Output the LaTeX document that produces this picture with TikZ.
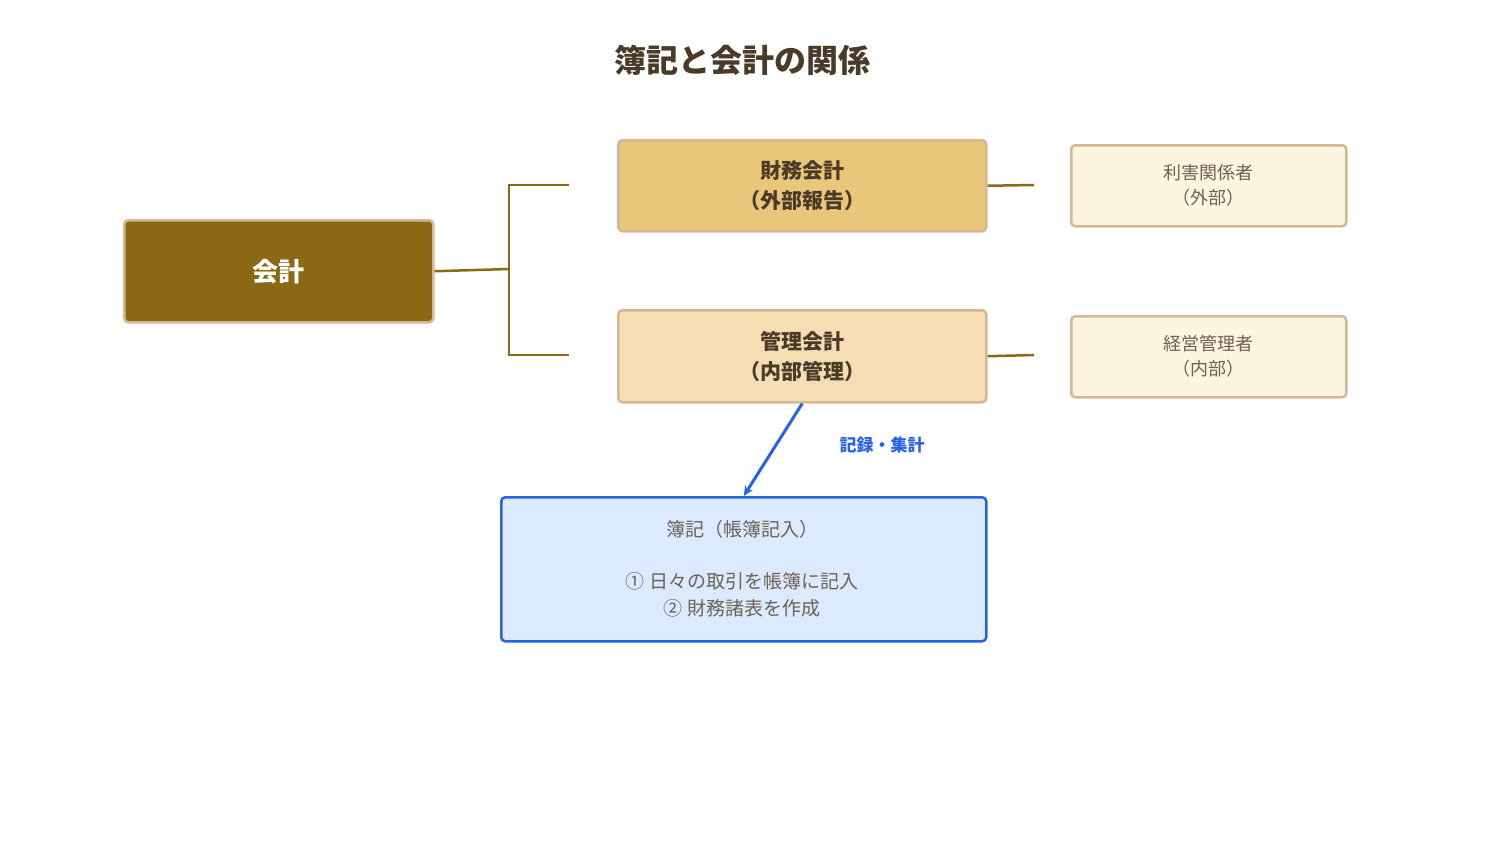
\documentclass[tikz,border=0pt]{standalone}
\usepackage{fontspec}
\setmainfont{Noto Sans CJK JP}
\usetikzlibrary{arrows.meta}
\begin{document}
\begin{tikzpicture}[x=1pt,y=-1pt,
  box/.style={draw,line width=2.5pt,rounded corners=4pt,anchor=north west,inner sep=0pt,align=center},
  brown/.style={draw=conn,line width=2.5pt}]
\definecolor{conn}{HTML}{8B6914}
\definecolor{txt}{HTML}{4A3A28}
\definecolor{bord}{HTML}{D4B896}
\definecolor{blu}{HTML}{2563EB}
\definecolor{finf}{HTML}{E8C77A}
\definecolor{mgtf}{HTML}{F5DEB3}
\definecolor{lite}{HTML}{FDF5E0}
\definecolor{bluf}{HTML}{DBEAFE}
\useasboundingbox (0,0) rectangle (1485,848);
\node[text=txt,font=\fontsize{32}{38}\selectfont\bfseries] (title) at (742,60) {簿記と会計の関係};
\node[box,draw=bord,fill=conn,minimum width=309,minimum height=102,text=white,font=\fontsize{26}{30}\selectfont\bfseries] (acc) at (123,219) {会計};
\node[box,draw=bord,fill=finf,minimum width=368,minimum height=91,text=txt,font=\fontsize{21}{30}\selectfont\bfseries] (fin) at (617,139) {財務会計\\（外部報告）};
\node[box,draw=bord,fill=mgtf,minimum width=368,minimum height=92,text=txt,font=\fontsize{21}{30}\selectfont\bfseries] (mgt) at (617,309) {管理会計\\（内部管理）};
\node[box,draw=bord,fill=lite,minimum width=275,minimum height=81,text=txt!80,font=\fontsize{18}{25}\selectfont] (ext) at (1070,144) {利害関係者\\（外部）};
\node[box,draw=bord,fill=lite,minimum width=275,minimum height=81,text=txt!80,font=\fontsize{18}{25}\selectfont] (int) at (1070,315) {経営管理者\\（内部）};
\node[box,draw=blu,fill=bluf,minimum width=485,minimum height=144] (bk) at (500,496) {};
\node[text=txt!80,font=\fontsize{19}{26}\selectfont] (bk1) at (742,529) {簿記（帳簿記入）};
\node[text=txt!80,font=\fontsize{19}{27}\selectfont,align=center] (bk2) at (742,595) {① 日々の取引を帳簿に記入\\② 財務諸表を作成};
\node[text=blu,font=\fontsize{17}{20}\selectfont\bfseries] (lab) at (882,445) {記録・集計};
\coordinate (j) at (509,269);
\coordinate (t1) at (569,185);
\coordinate (t2) at (569,355);
\draw[brown] (acc.east) -- (j);
\draw[brown] (t1) -- (509,185) -- (509,355) -- (t2);
\coordinate (e1) at (1034,185);
\coordinate (e2) at (1034,355);
\draw[brown] (fin.east) -- (e1);
\draw[brown] (mgt.east) -- (e2);
\draw[draw=blu,line width=3pt,-{Stealth[length=10pt,width=9pt]}] (mgt.south) -- (bk.north);
\end{tikzpicture}
\end{document}
